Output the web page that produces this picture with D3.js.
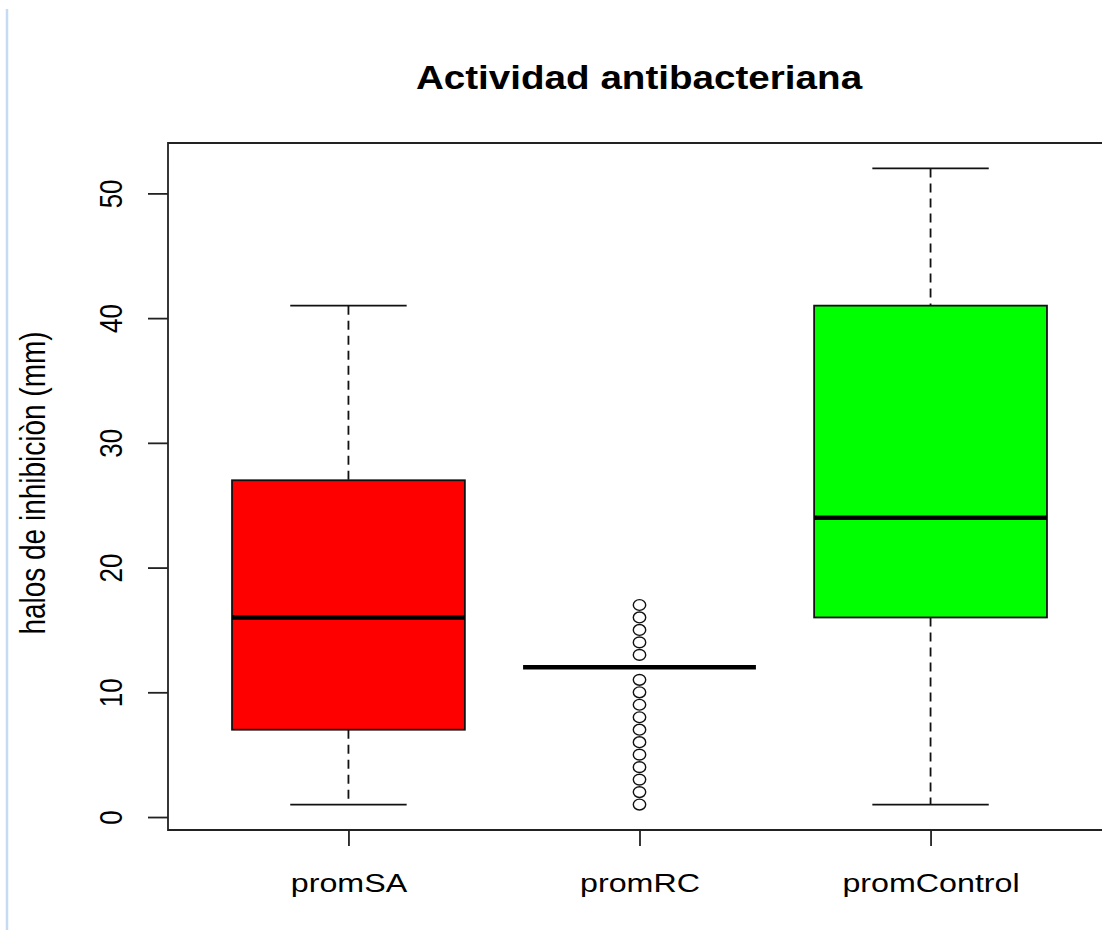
<!DOCTYPE html>
<html>
<head>
<meta charset="utf-8">
<script src="https://cdn.jsdelivr.net/npm/d3@7"></script>
<style>
  html, body { margin: 0; padding: 0; background: #fff; }
  svg { display: block; }
  text { font-family: "Liberation Sans", Arial, sans-serif; fill: #000; }
</style>
</head>
<body>
<svg id="chart" width="1102" height="930"></svg>
<script>
// Group names on the x axis
const categories = ["promSA", "promRC", "promControl"];
// Five-number summaries per group: lower whisker, Q1, median, Q3, upper whisker
const whiskerLow = [1, 12, 1];
const q1 = [7, 12, 16];
const median = [16, 12, 24];
const q3 = [27, 12, 41];
const whiskerHigh = [41, 12, 52];
const boxFill = ["#ff0000", "#0000ff", "#00ff00"];
// Outlying observations (group index, value)
const outlierGroup = [1, 1, 1, 1, 1, 1, 1, 1, 1, 1, 1, 1, 1, 1, 1, 1];
const outlierValue = [1, 2, 3, 4, 5, 6, 7, 8, 9, 10, 11, 13, 14, 15, 16, 17];
// Axis ticks
const yTicks = [0, 10, 20, 30, 40, 50];
const titleText = "Actividad antibacteriana";
const yLabel = "halos de inhibiciòn (mm)";

const svg = d3.select("#chart");
const W = 1102, H = 930;
const sx = 1.24; // horizontal stretch of the rendered text

// page edge rule on the left
svg.append("line")
  .attr("x1", 7).attr("x2", 7).attr("y1", 9).attr("y2", H)
  .attr("stroke", "#c6daf2").attr("stroke-width", 2.5);

const plot = { left: 168, top: 143, bottom: 830, right: 1111 };

const x = d3.scaleLinear().domain([0.38, 3.62]).range([plot.left, plot.right]);
const y = d3.scaleLinear().domain([-1.04, 54.04]).range([plot.bottom, plot.top]);
const step = x(2) - x(1);
const halfBox = 0.4 * step;
const halfStaple = 0.2 * step;

const g = svg.append("g");

// whiskers (dashed) and staples
categories.forEach((c, i) => {
  const cx = x(i + 1);
  const wg = g.append("g");
  wg.append("line")
    .attr("x1", cx).attr("x2", cx).attr("y1", y(whiskerHigh[i])).attr("y2", y(q3[i]))
    .attr("stroke", "#111").attr("stroke-width", 1.8).attr("stroke-dasharray", "9,6");
  wg.append("line")
    .attr("x1", cx).attr("x2", cx).attr("y1", y(q1[i])).attr("y2", y(whiskerLow[i]))
    .attr("stroke", "#111").attr("stroke-width", 1.8).attr("stroke-dasharray", "9,6");
  [whiskerHigh[i], whiskerLow[i]].forEach(v => {
    wg.append("line")
      .attr("x1", cx - halfStaple).attr("x2", cx + halfStaple)
      .attr("y1", y(v)).attr("y2", y(v))
      .attr("stroke", "#111").attr("stroke-width", 1.8);
  });
});

// boxes
g.selectAll("rect.box").data(categories).join("rect")
  .attr("class", "box")
  .attr("x", (d, i) => x(i + 1) - halfBox)
  .attr("width", 2 * halfBox)
  .attr("y", (d, i) => y(q3[i]))
  .attr("height", (d, i) => y(q1[i]) - y(q3[i]))
  .attr("fill", (d, i) => boxFill[i])
  .attr("stroke", "#111").attr("stroke-width", 1.8);

// medians
g.selectAll("line.med").data(categories).join("line")
  .attr("class", "med")
  .attr("x1", (d, i) => x(i + 1) - halfBox)
  .attr("x2", (d, i) => x(i + 1) + halfBox)
  .attr("y1", (d, i) => y(median[i]))
  .attr("y2", (d, i) => y(median[i]))
  .attr("stroke", "#000").attr("stroke-width", 4.5);

// outliers
g.selectAll("ellipse.out").data(outlierValue).join("ellipse")
  .attr("class", "out")
  .attr("cx", (d, i) => x(outlierGroup[i] + 1))
  .attr("cy", d => y(d))
  .attr("rx", 6.2).attr("ry", 5.4)
  .attr("fill", "none").attr("stroke", "#111").attr("stroke-width", 1.4);

// plot frame
svg.append("path")
  .attr("d", `M${plot.right},${plot.top}H${plot.left}V${plot.bottom}H${plot.right}`)
  .attr("fill", "none").attr("stroke", "#222").attr("stroke-width", 1.8);

// y axis
const yAxis = svg.append("g")
  .attr("transform", `translate(${plot.left},0)`)
  .call(d3.axisLeft(y).tickValues(yTicks).tickSize(20).tickSizeOuter(0).tickFormat(d3.format("d")));
yAxis.select(".domain").remove();
yAxis.selectAll(".tick line").attr("stroke", "#222").attr("stroke-width", 1.8);
yAxis.selectAll(".tick text")
  .attr("x", null).attr("dy", null)
  .attr("text-anchor", "middle")
  .attr("font-size", 26)
  .attr("transform", `translate(-58,0) scale(${sx},1) rotate(-90) translate(0,9.5)`);

// x axis
const xAxis = svg.append("g")
  .attr("transform", `translate(0,${plot.bottom})`)
  .call(d3.axisBottom(x).tickValues([1, 2, 3]).tickSize(16).tickSizeOuter(0)
    .tickFormat(d => categories[d - 1]));
xAxis.select(".domain").remove();
xAxis.selectAll(".tick line").attr("stroke", "#222").attr("stroke-width", 1.8);
xAxis.selectAll(".tick text")
  .attr("y", null).attr("dy", null)
  .attr("text-anchor", "middle")
  .attr("font-size", 26)
  .attr("transform", `translate(0,62) scale(${sx},1)`);

// title
svg.append("text")
  .attr("text-anchor", "middle")
  .attr("font-size", 33).attr("font-weight", "bold")
  .attr("transform", `translate(639,89) scale(1.17,1)`)
  .text(titleText);

// y axis label
svg.append("text")
  .attr("text-anchor", "middle")
  .attr("font-size", 28)
  .attr("transform", `translate(33,483) scale(${sx},1) rotate(-90) translate(0,9.5)`)
  .text(yLabel);
</script>
</body>
</html>
